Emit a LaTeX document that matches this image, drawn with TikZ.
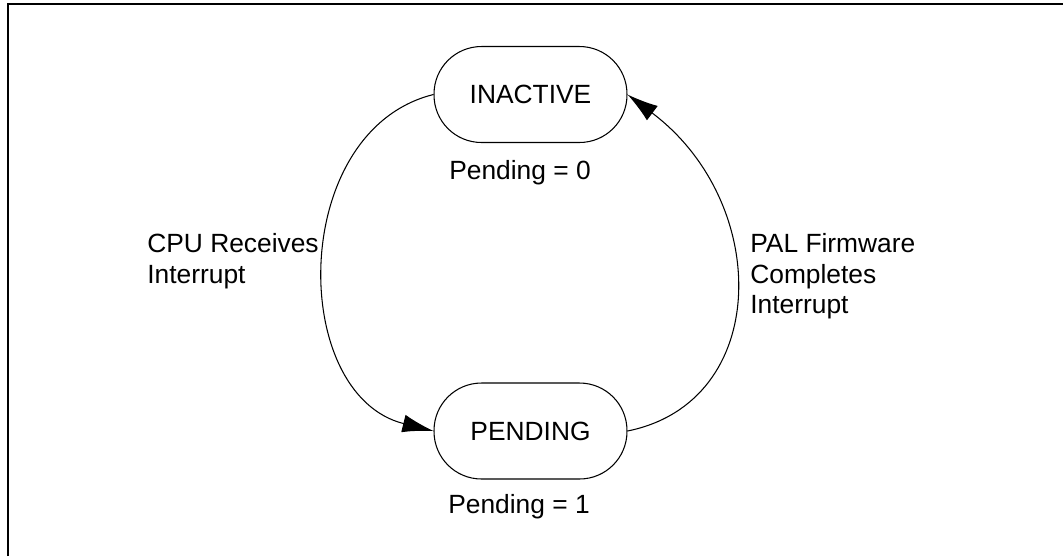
\documentclass[tikz,border=0pt]{standalone}
\usepackage{fontspec}
\setmainfont{Liberation Sans}
\usetikzlibrary{arrows.meta}

\begin{document}
\begin{tikzpicture}[
		x=0.02cm, y=-0.02cm,
		every node/.style={font=\fontsize{15}{17.4}\selectfont, inner sep=0pt},
		state/.style={draw, line width=0.6pt, rounded corners=0.95cm,
			minimum width=3.86cm, minimum height=1.92cm},
		note/.style={anchor=north west, align=left},
		transition/.style={draw, line width=0.6pt, -{Latex[length=6.2mm,width=3.6mm]}}
	]
	\useasboundingbox (0,0) rectangle (1063,556);
	% frame
	\draw[line width=1.1pt] (8,556) -- (8,4) -- (1063,4);

	\node[state] (inactive) at (530.5,94.5) {INACTIVE};
	\node[state] (pending) at (530.5,431) {PENDING};
	\node[anchor=base] (inactivebit) at (520,179) {Pending = 0};
	\node[anchor=base] (pendingbit) at (519,513) {Pending = 1};

	\node[note] (receive) at (147,233) {CPU Receives\\Interrupt};
	\node[note] (complete) at (750,233) {PAL Firmware\\Completes\\Interrupt};

	\draw[transition] (inactive.west) .. controls +(-145,36) and +(-145,-36) .. (pending.west);
	\draw[transition] (pending.east) .. controls +(144,-29) and +(144,108) .. (inactive.east);
\end{tikzpicture}
\end{document}
